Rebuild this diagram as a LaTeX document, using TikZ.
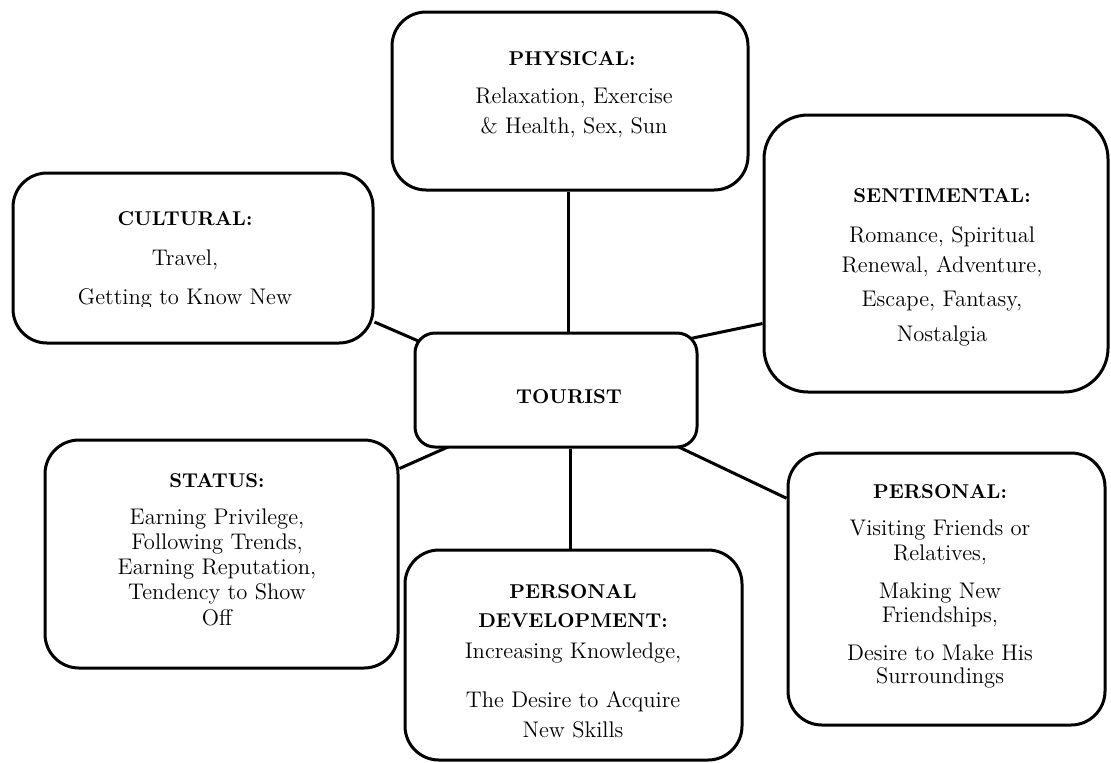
\documentclass[tikz,border=0pt]{standalone}
\usetikzlibrary{calc,backgrounds}
\begin{document}
\begin{tikzpicture}[x=0.5pt,y=-0.5pt,
  boxst/.style={draw, line width=1.5pt, rounded corners=17pt, fill=white, inner sep=0pt},
  conn/.style={line width=1.5pt},
  ttl/.style={anchor=base, inner sep=0pt, font=\fontsize{10}{12}\selectfont\bfseries},
  ln/.style={anchor=base, inner sep=0pt, font=\fontsize{11.3}{13}\selectfont}]
\useasboundingbox (0,0) rectangle (1111,762);
% boxes
\node[boxst, minimum width=178pt, minimum height=89pt] (phys) at (570,101) {};
\node[boxst, minimum width=180pt, minimum height=85pt] (cult) at (193,258) {};
\node[boxst, rounded corners=22pt, minimum width=172pt, minimum height=138.5pt] (sent) at (936,253.5) {};
\node[boxst, rounded corners=10pt, minimum width=141pt, minimum height=57pt] (tour) at (556,390) {};
\node[boxst, minimum width=176.5pt, minimum height=114pt] (stat) at (221.5,554) {};
\node[boxst, minimum width=158.5pt, minimum height=136pt] (pers) at (946.5,589) {};
\node[boxst, minimum width=168.5pt, minimum height=105pt] (pdev) at (573.5,655) {};
% connectors
\begin{scope}[on background layer]
\draw[conn] ([xshift=-1pt]phys.south) -- ([xshift=-1pt]phys.south |- tour.north);
\draw[conn] ($(cult.north east)!0.87!(cult.south east)$) -- ($(tour.north west)+(6,10)$);
\draw[conn] ($(sent.north west)!0.75!(sent.south west)$) -- ($(tour.north east)+(-8,7)$);
\draw[conn] ($(stat.north east)!0.13!(stat.south east)$) -- ($(tour.south west)+(40,-4)$);
\draw[conn] ([xshift=7pt]tour.south) -- ([xshift=7pt]tour.south |- pdev.north);
\draw[conn] ($(tour.south east)+(-25,-4)$) -- ($(pers.north west)!0.17!(pers.south west)$);
\end{scope}
% texts
\node[ttl] (physT) at (572,65) {PHYSICAL:};
\node[ln] (phys1) at (574,103) {Relaxation, Exercise};
\node[ln] (phys2) at (574,133) {\& Health, Sex, Sun};
\node[ttl] (cultT) at (185,225) {CULTURAL:};
\node[ln] (cult1) at (185,265) {Travel,};
\begin{scope}
\clip (20,280) rectangle (370,306);
\node[ln] (cult2) at (185,304) {Getting to Know New};
\end{scope}
\node[ttl] (sentT) at (942,202) {SENTIMENTAL:};
\node[ln] (sent1) at (942,242) {Romance, Spiritual};
\node[ln] (sent2) at (942,272) {Renewal, Adventure,};
\node[ln] (sent3) at (942,306) {Escape, Fantasy,};
\node[ln] (sent4) at (942,341) {Nostalgia};
\node[ttl] (tourT) at (569,403) {TOURIST};
\node[ttl] (statT) at (217,487) {STATUS:};
\node[ln] (stat1) at (217,524) {Earning Privilege,};
\node[ln] (stat2) at (217,549) {Following Trends,};
\node[ln] (stat3) at (217,574) {Earning Reputation,};
\node[ln] (stat4) at (217,599) {Tendency to Show};
\node[ln] (stat5) at (217,625) {Off};
\node[ttl] (persT) at (940,498) {PERSONAL:};
\node[ln] (pers1) at (940,535) {Visiting Friends or};
\node[ln] (pers2) at (940,560) {Relatives,};
\node[ln] (pers3) at (940,598) {Making New};
\node[ln] (pers4) at (940,622) {Friendships,};
\node[ln] (pers5) at (940,660) {Desire to Make His};
\node[ln] (pers6) at (940,683) {Surroundings};
\node[ttl] (pdevT1) at (573,598) {PERSONAL};
\node[ttl] (pdevT2) at (573,627) {DEVELOPMENT:};
\node[ln] (pdev1) at (573,658) {Increasing Knowledge,};
\node[ln] (pdev2) at (573,707) {The Desire to Acquire};
\node[ln] (pdev3) at (573,737) {New Skills};
\end{tikzpicture}
\end{document}
